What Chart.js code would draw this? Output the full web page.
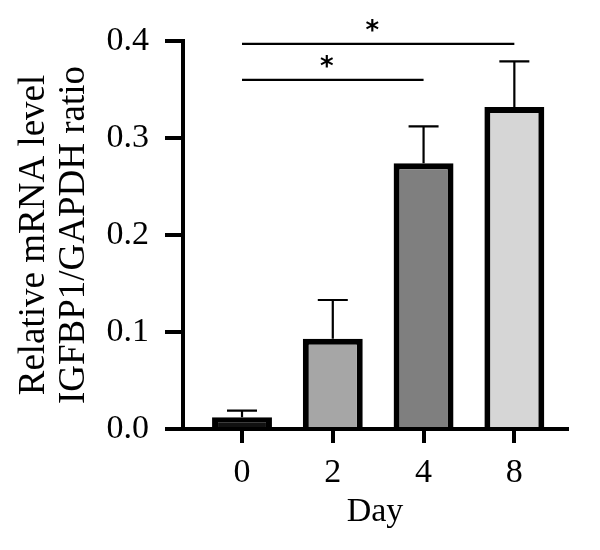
<!DOCTYPE html>
<html>
<head>
<meta charset="utf-8">
<script src="https://cdn.jsdelivr.net/npm/chart.js@4/dist/chart.umd.min.js"></script>
<style>
html,body{margin:0;padding:0;background:#fff;}
#wrap{width:600px;height:550px;}
</style>
</head>
<body>
<div id="wrap"><canvas id="c" width="600" height="550"></canvas></div>
<script>
// ---- data ----
const categories = ['0', '2', '4', '8'];
const positions = [0, 1, 2, 3];
const means = [0.012, 0.093, 0.274, 0.332];
const errors = [0.007, 0.040, 0.038, 0.047];
const barColors = ['#111111', '#a6a6a6', '#7f7f7f', '#d6d6d6'];
const yTicks = [0, 0.1, 0.2, 0.3, 0.4];
// significance comparisons: [from index, to index, height]
const sigFrom = [0, 0];
const sigTo = [3, 2];
const sigHeight = [0.397, 0.360];
const sigLabel = ['*', '*'];

const FONT = "'Liberation Serif', 'Times New Roman', serif";

const annotate = {
  id: 'annotate',
  afterDatasetsDraw(chart) {
    const ctx = chart.ctx;
    const xs = chart.scales.x, ys = chart.scales.y;
    ctx.save();
    ctx.strokeStyle = '#000';
    ctx.lineWidth = 2.2;
    // error bars (upper only)
    for (let i = 0; i < means.length; i++) {
      const x = xs.getPixelForValue(positions[i]);
      const yb = ys.getPixelForValue(means[i]);
      const yt = ys.getPixelForValue(means[i] + errors[i]);
      ctx.beginPath();
      ctx.moveTo(x, yb);
      ctx.lineTo(x, yt);
      ctx.moveTo(x - 15, yt);
      ctx.lineTo(x + 15, yt);
      ctx.stroke();
    }
    // significance lines
    ctx.fillStyle = '#000';
    ctx.font = "bold 26px 'DejaVu Sans', sans-serif";
    ctx.textAlign = 'center';
    ctx.textBaseline = 'middle';
    for (let k = 0; k < sigFrom.length; k++) {
      const x1 = xs.getPixelForValue(positions[sigFrom[k]]);
      const x2 = xs.getPixelForValue(positions[sigTo[k]]);
      const y = ys.getPixelForValue(sigHeight[k]);
      ctx.beginPath();
      ctx.moveTo(x1, y);
      ctx.lineTo(x2, y);
      ctx.stroke();
      ctx.fillText(sigLabel[k], (x1 + x2) / 2 - 6, y - 12);
    }
    ctx.restore();
  }
};

new Chart(document.getElementById('c'), {
  type: 'bar',
  data: {
    datasets: [{
      data: positions.map((p, i) => ({x: p, y: means[i]})),
      backgroundColor: barColors,
      borderColor: '#000',
      borderWidth: 6,
      borderSkipped: 'start',
      barPercentage: 0.66,
      categoryPercentage: 1.0
    }]
  },
  options: {
    responsive: false,
    animation: false,
    devicePixelRatio: 1,
    layout: {padding: {top: 41, right: 33, left: 0, bottom: 0}},
    plugins: {legend: {display: false}, tooltip: {enabled: false}},
    scales: {
      x: {
        type: 'linear',
        offset: false,
        min: -0.65,
        max: 3.58,
        afterBuildTicks: s => { s.ticks = positions.map(v => ({value: v})); },
        afterFit: s => { s.height = 121; },
        ticks: {
          callback: (v) => categories[positions.indexOf(v)],
          font: {family: FONT, size: 34},
          color: '#000',
          padding: 10,
          maxRotation: 0,
          autoSkip: false
        },
        grid: {display: true, offset: false, drawOnChartArea: false, drawTicks: true, tickLength: 14, lineWidth: 4, tickColor: '#000', color: '#000'},
        border: {display: true, color: '#000', width: 4},
        title: {display: true, text: 'Day', font: {family: FONT, size: 34}, color: '#000', padding: {top: 0, bottom: 18}}
      },
      y: {
        min: 0,
        max: 0.4,
        afterBuildTicks: s => { s.ticks = yTicks.map(v => ({value: v})); },
        afterFit: s => { s.width = 183; },
        ticks: {
          callback: v => v.toFixed(1),
          font: {family: FONT, size: 34},
          color: '#000',
          padding: 16
        },
        grid: {display: true, drawOnChartArea: false, drawTicks: true, tickLength: 18, lineWidth: 4, tickColor: '#000', color: '#000'},
        border: {display: true, color: '#000', width: 4},
        title: {display: true, text: ['Relative mRNA level', 'IGFBP1/GAPDH ratio'], font: {family: FONT, size: 37, lineHeight: 1.08}, color: '#000', padding: {top: 14, bottom: 0}}
      }
    }
  },
  plugins: [annotate]
});
</script>
</body>
</html>
